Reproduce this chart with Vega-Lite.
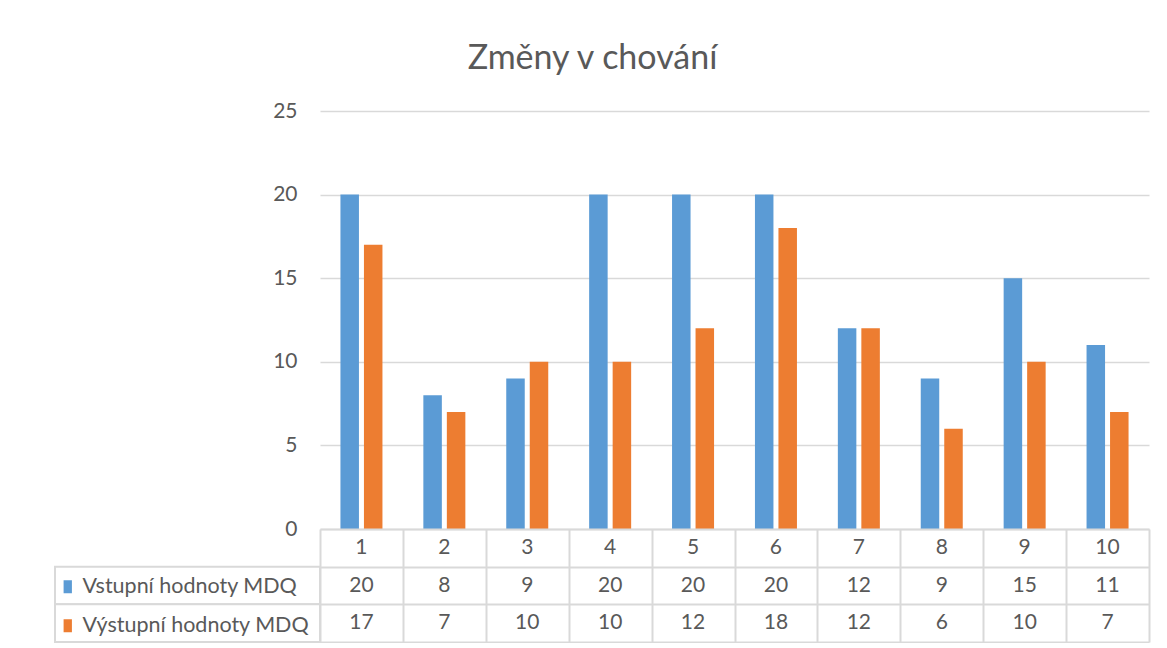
{
  "$schema": "https://vega.github.io/schema/vega-lite/v6.json",
  "padding": {"left": 54, "top": 42, "right": 10, "bottom": 0},
  "background": "white",
  "config": {"view": {"stroke": null}, "font": "Lato"},
  "title": {"text": "Změny v chování", "fontSize": 34, "font": "Lato", "fontWeight": "normal", "color": "#595959", "anchor": "middle", "offset": 24, "dx": -9},
  "datasets": {
    "d": [
      {"cat": 1, "series": "Vstupní hodnoty MDQ", "value": 20},
      {"cat": 2, "series": "Vstupní hodnoty MDQ", "value": 8},
      {"cat": 3, "series": "Vstupní hodnoty MDQ", "value": 9},
      {"cat": 4, "series": "Vstupní hodnoty MDQ", "value": 20},
      {"cat": 5, "series": "Vstupní hodnoty MDQ", "value": 20},
      {"cat": 6, "series": "Vstupní hodnoty MDQ", "value": 20},
      {"cat": 7, "series": "Vstupní hodnoty MDQ", "value": 12},
      {"cat": 8, "series": "Vstupní hodnoty MDQ", "value": 9},
      {"cat": 9, "series": "Vstupní hodnoty MDQ", "value": 15},
      {"cat": 10, "series": "Vstupní hodnoty MDQ", "value": 11},
      {"cat": 1, "series": "Výstupní hodnoty MDQ", "value": 17},
      {"cat": 2, "series": "Výstupní hodnoty MDQ", "value": 7},
      {"cat": 3, "series": "Výstupní hodnoty MDQ", "value": 10},
      {"cat": 4, "series": "Výstupní hodnoty MDQ", "value": 10},
      {"cat": 5, "series": "Výstupní hodnoty MDQ", "value": 12},
      {"cat": 6, "series": "Výstupní hodnoty MDQ", "value": 18},
      {"cat": 7, "series": "Výstupní hodnoty MDQ", "value": 12},
      {"cat": 8, "series": "Výstupní hodnoty MDQ", "value": 6},
      {"cat": 9, "series": "Výstupní hodnoty MDQ", "value": 10},
      {"cat": 10, "series": "Výstupní hodnoty MDQ", "value": 7}
    ]
  },
  "columns": 2,
  "spacing": 0,
  "bounds": "flush",
  "concat": [
    {
      "width": 265, "height": 418,
      "data": {"values": [{"a": 1}]},
      "mark": {"type": "text", "text": "", "opacity": 0},
      "encoding": {}
    },
    {
      "width": 829, "height": 418,
      "data": {"name": "d"},
      "mark": {"type": "bar"},
      "encoding": {
        "x": {"field": "cat", "type": "ordinal", "scale": {"paddingInner": 0, "paddingOuter": 0}, "axis": null},
        "xOffset": {"field": "series", "type": "nominal", "sort": null, "scale": {"paddingInner": 0.2128, "paddingOuter": 0.87}},
        "y": {"field": "value", "type": "quantitative", "scale": {"domain": [0, 25], "nice": false},
          "axis": {"values": [0, 5, 10, 15, 20, 25], "title": null, "domain": false, "ticks": false, "labelPadding": 23, "labelFontSize": 21, "labelFont": "Lato", "labelColor": "#595959", "gridColor": "#d9d9d9", "gridWidth": 1.5}},
        "color": {"field": "series", "type": "nominal", "sort": null,
          "scale": {"domain": ["Vstupní hodnoty MDQ", "Výstupní hodnoty MDQ"], "range": ["#5B9BD5", "#ED7D31"]},
          "legend": {"orient": "none", "legendX": 2, "legendY": 465, "title": null, "symbolType": "M-0.64,-1H0.64V1H-0.64Z", "symbolSize": 169, "symbolStrokeWidth": 0, "labelFontSize": 21.5, "labelFont": "Lato", "labelColor": "#595959", "labelOffset": 4, "rowPadding": 16, "labelLimit": 400}}
      }
    },
    {
      "width": 265, "height": 113,
      "data": {"name": "d"},
      "transform": [{"filter": "datum.cat == 1"}],
      "mark": {"type": "rect", "fill": "white", "stroke": "#d9d9d9", "strokeWidth": 2},
      "encoding": {
        "y": {"field": "series", "type": "nominal", "scale": {"domain": ["hdr", "Vstupní hodnoty MDQ", "Výstupní hodnoty MDQ"], "paddingInner": 0, "paddingOuter": 0}, "axis": null}
      }
    },
    {
      "width": 829, "height": 113,
      "data": {"name": "d"},
      "layer": [
        {
          "mark": {"type": "text", "fontSize": 21, "font": "Lato", "color": "#595959"},
          "encoding": {
            "x": {"field": "cat", "type": "ordinal", "scale": {"paddingInner": 0, "paddingOuter": 0},
              "axis": {"title": null, "labels": false, "ticks": false, "domain": false, "grid": true, "tickBand": "extent", "gridColor": "#d9d9d9", "gridWidth": 2}},
            "y": {"field": "series", "type": "nominal", "scale": {"domain": ["hdr", "Vstupní hodnoty MDQ", "Výstupní hodnoty MDQ"], "paddingInner": 0, "paddingOuter": 0},
              "axis": {"title": null, "labels": false, "ticks": false, "domain": false, "grid": true, "tickBand": "extent", "gridColor": "#d9d9d9", "gridWidth": 2}},
            "text": {"field": "value", "type": "quantitative"}
          }
        },
        {
          "transform": [{"filter": "datum.series == 'Vstupní hodnoty MDQ'"}],
          "mark": {"type": "text", "fontSize": 21, "font": "Lato", "color": "#595959"},
          "encoding": {
            "x": {"field": "cat", "type": "ordinal"},
            "y": {"datum": "hdr", "type": "nominal"},
            "text": {"field": "cat", "type": "ordinal"}
          }
        }
      ]
    }
  ]
}
